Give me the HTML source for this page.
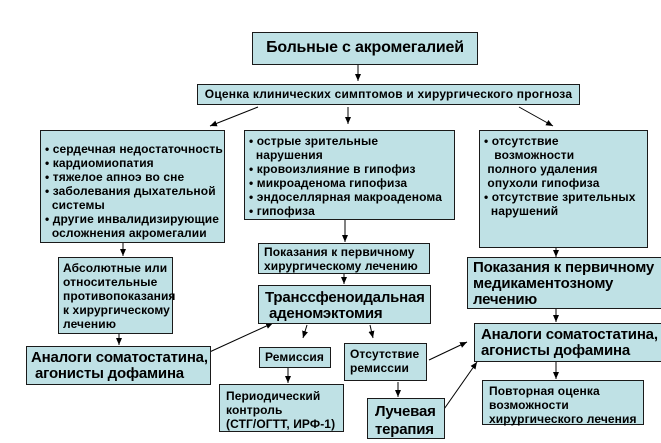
<!DOCTYPE html>
<html><head><meta charset="utf-8"><style>
html,body{margin:0;padding:0;background:#fff;width:661px;height:443px;overflow:hidden;position:relative}
.b{position:absolute;box-sizing:border-box;background:#bfe1e5;border:1.5px solid #1a1a1a;font-family:"Liberation Sans","DejaVu Sans",sans-serif;font-weight:bold;color:#000;white-space:nowrap;letter-spacing:-0.2px}
.s{font-size:12px;line-height:14px;letter-spacing:0.1px}
.l{font-size:15px;line-height:16px}
svg{position:absolute;left:0;top:0}
</style></head><body>
<svg width="661" height="443">
<defs><marker id="a" markerWidth="8" markerHeight="8" refX="7" refY="4" orient="auto" markerUnits="userSpaceOnUse"><path d="M0,1 L7,4 L0,7 z" fill="#000"/></marker></defs>
<g stroke="#000" stroke-width="1" fill="none" marker-end="url(#a)">
<line x1="358" y1="65" x2="358" y2="81"/>
<line x1="258" y1="107" x2="210" y2="126"/>
<line x1="348" y1="107" x2="348" y2="124"/>
<line x1="519" y1="107" x2="553" y2="126"/>
<line x1="123" y1="243" x2="123" y2="256"/>
<line x1="345" y1="220" x2="345" y2="242"/>
<line x1="556" y1="248" x2="556" y2="257"/>
<line x1="119" y1="334" x2="119" y2="345"/>
<line x1="344" y1="274" x2="344" y2="284"/>
<line x1="203" y1="355" x2="273" y2="323"/>
<line x1="307" y1="325" x2="303" y2="338"/>
<line x1="370" y1="325" x2="373" y2="338"/>
<line x1="288" y1="368" x2="288" y2="383"/>
<line x1="398" y1="382" x2="398" y2="397"/>
<line x1="429" y1="360" x2="467" y2="342"/>
<line x1="442" y1="412" x2="477" y2="362"/>
<line x1="556" y1="309" x2="556" y2="322"/>
<line x1="556" y1="362" x2="556" y2="379"/>
</g></svg>

<div class="b" style="left:252px;top:32px;width:226px;height:33px;font-size:16px;line-height:30px;text-align:center">Больные с акромегалией</div>
<div class="b" style="left:197px;top:84px;width:383px;height:21px;font-size:12px;line-height:18px;text-align:center;letter-spacing:0.2px">Оценка клинических симптомов и хирургического прогноза</div>

<div class="b s" style="left:40px;top:130px;width:185px;height:113px;padding:11px 0 0 4px">• сердечная недостаточность<br>• кардиомиопатия<br>• тяжелое апноэ во сне<br>• заболевания дыхательной<br>&nbsp;&nbsp;системы<br>• другие инвалидизирующие<br>&nbsp;&nbsp;осложнения акромегалии</div>
<div class="b s" style="left:244px;top:130px;width:211px;height:90px;padding:3px 0 0 4px">• острые зрительные<br>&nbsp;&nbsp;нарушения<br>• кровоизлияние в гипофиз<br>• микроаденома гипофиза<br>• эндоселлярная макроаденома<br>• гипофиза</div>
<div class="b s" style="left:479px;top:130px;width:169px;height:118px;padding:3px 0 0 4px">• отсутствие<br>&nbsp;&nbsp;&nbsp;возможности<br>&nbsp;полного удаления<br>&nbsp;опухоли гипофиза<br>• отсутствие зрительных<br>&nbsp;&nbsp;нарушений</div>

<div class="b s" style="left:58px;top:257px;height:77px;padding:3px 0 0 4px;width:115px">Абсолютные или<br>относительные<br>противопоказания<br>к хирургическому<br>лечению</div>
<div class="b l" style="left:26px;top:346px;width:185px;height:39px;padding:3px 0 0 4px">Аналоги соматостатина,<br>&nbsp;агонисты дофамина</div>

<div class="b s" style="left:258px;top:243px;width:172px;height:31px;padding:1px 0 0 5px">Показания к первичному<br>хирургическому лечению</div>
<div class="b l" style="left:258px;top:285px;width:173px;height:39px;padding:4px 0 0 6px">Транссфеноидальная<br>&nbsp;аденомэктомия</div>
<div class="b s" style="left:259px;top:347px;width:72px;height:21px;padding:2px 0 0 5px">Ремиссия</div>
<div class="b s" style="left:344px;top:343px;width:83px;height:38px;padding:3px 0 0 5px">Отсутствие<br>ремиссии</div>
<div class="b s" style="left:219px;top:384px;width:125px;height:48px;padding:4px 0 0 6px">Периодический<br>контроль<br>(СТГ/ОГТТ, ИРФ-1)</div>
<div class="b l" style="left:367px;top:398px;width:78px;height:41px;padding:4px 0 0 7px;line-height:18px">Лучевая<br>терапия</div>

<div class="b l" style="left:467px;top:257px;width:196px;height:52px;padding:2px 0 0 5px">Показания к первичному<br>медикаментозному<br>лечению</div>
<div class="b l" style="left:474px;top:323px;width:188px;height:39px;padding:3px 0 0 6px">Аналоги соматостатина,<br>агонисты дофамина</div>
<div class="b s" style="left:482px;top:380px;width:162px;height:45px;padding:3px 0 0 6px">Повторная оценка<br>возможности<br>хирургического лечения</div>
</body></html>
